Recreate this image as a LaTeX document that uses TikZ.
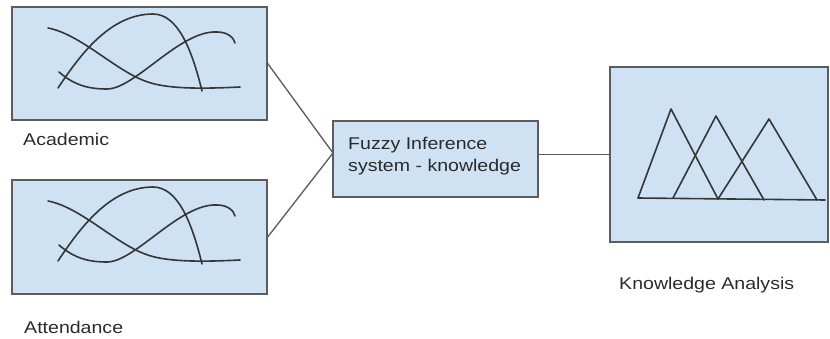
\documentclass[tikz,border=0pt]{standalone}
\usepackage{fontspec}
\setmainfont{Liberation Sans}
\begin{document}
\begin{tikzpicture}[x=1pt,y=-1pt,
  panel/.style={draw=boxedge, fill=panelblue, line width=1.4pt, inner sep=0pt},
  wire/.style={draw=wiregray, line width=1.3pt},
  sketch/.style={draw=inkgray, line width=1.6pt, line join=round, line cap=round},
  label/.style={inner sep=0pt, text=labelgray, font=\fontsize{17}{22}\selectfont,
                xscale=1.15, transform shape}]
\definecolor{panelblue}{HTML}{CFE2F3}
\definecolor{boxedge}{HTML}{5C5C5C}
\definecolor{wiregray}{HTML}{5A5A5A}
\definecolor{inkgray}{HTML}{363636}
\definecolor{labelgray}{HTML}{2A2A2A}
\useasboundingbox (0,0) rectangle (830,339);

% input panels and the inference block
\node[panel, minimum width=255pt, minimum height=113pt] (acad) at (139.5,63.5) {};
\node[panel, minimum width=255pt, minimum height=114pt] (att)  at (139.5,237) {};
\node[panel, minimum width=205pt, minimum height=76pt]  (fis)  at (435.5,159) {};
\node[panel, minimum width=218pt, minimum height=175pt] (ka)   at (719,154.5) {};

% membership curves sketched in each input panel
\foreach \dy in {0,173}{
  \begin{scope}[yshift=-\dy pt]
    \draw[sketch] (48,28) .. controls (80,34) and (115,70) .. (145,81)
                          .. controls (165,89) and (200,89) .. (240,87);
    \draw[sketch] (58,88) .. controls (80,55) and (110,14) .. (153,14)
                          .. controls (178,14) and (192,50) .. (202,91);
    \draw[sketch] (59,72) .. controls (75,86) and (90,89) .. (107,89)
                          .. controls (135,89) and (180,30) .. (217,32)
                          .. controls (228,32) and (234,38) .. (235,43);
  \end{scope}
}

% triangular output sets
\draw[sketch] (638,198) -- (671,109) -- (718,199);
\draw[sketch] (673,198) -- (716,116) -- (764,200);
\draw[sketch] (718,199) -- (769,119) -- (817,200);
\draw[sketch] (638,198) -- (825,200);

% connectors
\coordinate (join) at (333,153);
\draw[wire] (acad.east) -- (join);
\draw[wire] (att.east) -- (join);
\draw[wire] (fis.east |- ka.west) -- (ka.west);

% labels
\node[label, anchor=base west] (lacad) at (23,146) {Academic};
\node[label, anchor=base west] (latt)  at (24,333) {Attendance};
\node[label, anchor=north west, align=left] (lfis) at (348,136.5)
  {Fuzzy Inference\\system - knowledge};
\node[label, anchor=base west] (lka) at (619,289.5) {Knowledge Analysis};
\end{tikzpicture}
\end{document}
